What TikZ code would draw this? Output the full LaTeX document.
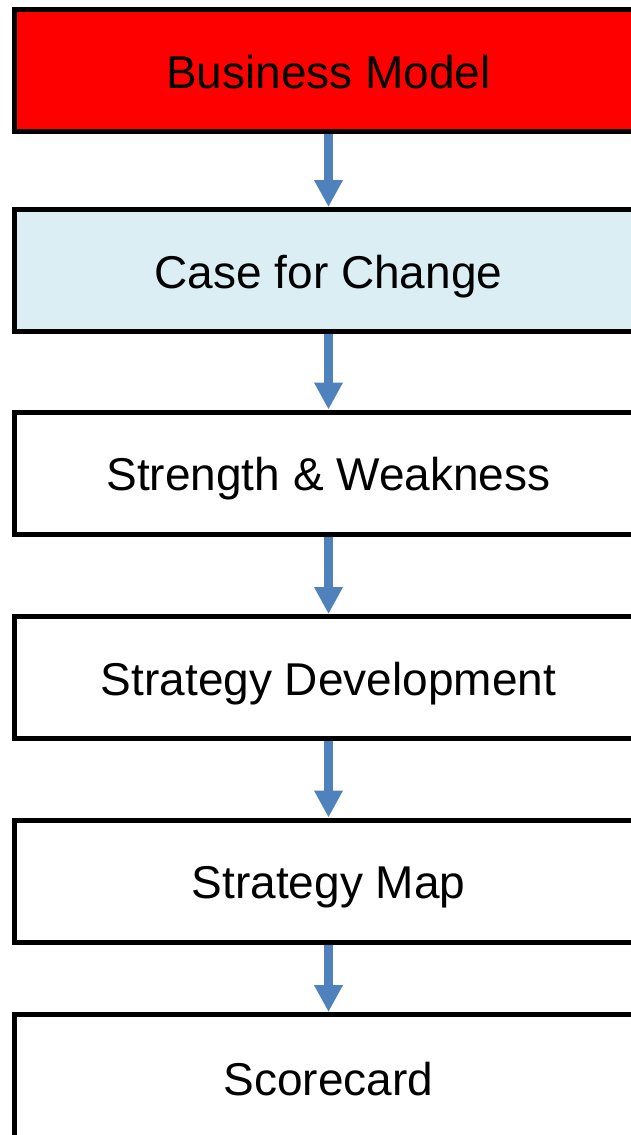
\documentclass[tikz,border=0pt]{standalone}
\usepackage{fontspec}
\setmainfont{Liberation Sans}
\usetikzlibrary{arrows.meta}

\definecolor{boxred}{HTML}{FF0000}
\definecolor{boxaqua}{HTML}{DAEEF3}
\definecolor{flowblue}{HTML}{4F81BD}

\tikzset{
  stagebox/.style={draw=black, line width=5pt, minimum width=629pt, minimum height=122pt,
    inner sep=0pt, text height=35pt, text depth=0pt, font=\fontsize{46}{50}\selectfont},
  flowarrow/.style={draw=flowblue, line width=9pt,
    -{Triangle[width=27pt,length=27pt]}}
}

\begin{document}
\begin{tikzpicture}[x=1pt,y=-1pt]
        % Margens da figura
        \useasboundingbox (0,0) rectangle (631,1135);
        \clip (0,0) rectangle (631,1135);
        % Caixas
        \node[stagebox, fill=boxred] (model) at (328.5,70.5) {Business Model};
        \node[stagebox, fill=boxaqua] (change) at (328.5,270.5) {Case for Change};
        \node[stagebox, fill=white] (swot) at (328.5,473) {Strength \& Weakness};
        \node[stagebox, fill=white] (develop) at (328.5,677.5) {Strategy Development};
        \node[stagebox, fill=white] (map) at (328.5,881) {Strategy Map};
        \node[stagebox, fill=white, minimum height=126pt] (score) at (328.5,1077.5) {Scorecard};
        % Setas
        \draw[flowarrow] (model.south) -- (change.north);
        \draw[flowarrow] (change.south) -- (swot.north);
        \draw[flowarrow] (swot.south) -- (develop.north);
        \draw[flowarrow] (develop.south) -- (map.north);
        \draw[flowarrow] (map.south) -- (score.north);
    \end{tikzpicture}
\end{document}
